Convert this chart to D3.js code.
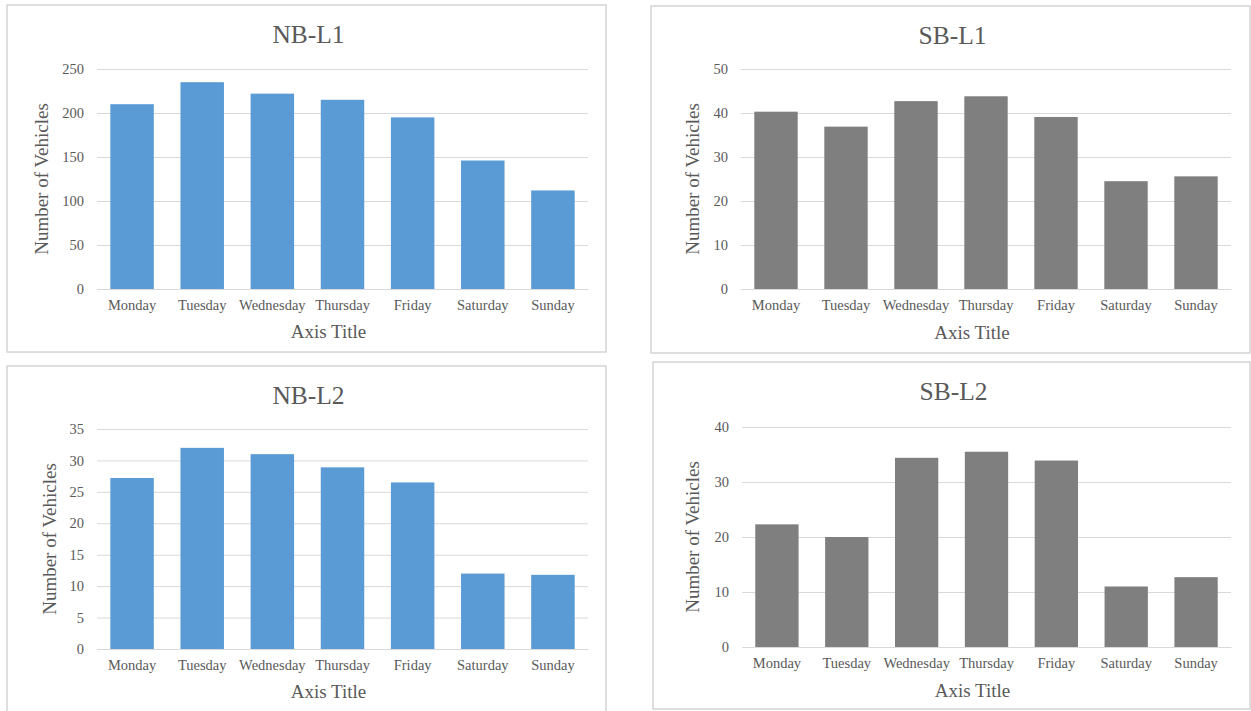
<!DOCTYPE html>
<html>
<head>
<meta charset="utf-8">
<script src="https://cdn.jsdelivr.net/npm/d3@7"></script>
<style>
  html, body { margin: 0; padding: 0; background: #ffffff; }
  svg { display: block; }
  text { font-family: "Liberation Serif", "Times New Roman", serif; fill: #595959; }
</style>
</head>
<body>
<svg id="chart" width="1251" height="711"></svg>
<script>
// ---- data ----
const days = ["Monday", "Tuesday", "Wednesday", "Thursday", "Friday", "Saturday", "Sunday"];
const titles = ["NB-L1", "SB-L1", "NB-L2", "SB-L2"];
const nbL1 = [210, 235, 222, 215, 195, 146, 112];
const sbL1 = [40.3, 36.9, 42.7, 43.8, 39.1, 24.5, 25.6];
const nbL2 = [27.2, 32.0, 31.0, 28.9, 26.5, 12.0, 11.8];
const sbL2 = [22.3, 20.0, 34.4, 35.5, 33.9, 11.0, 12.7];
const nbL1Ticks = [0, 50, 100, 150, 200, 250];
const sbL1Ticks = [0, 10, 20, 30, 40, 50];
const nbL2Ticks = [0, 5, 10, 15, 20, 25, 30, 35];
const sbL2Ticks = [0, 10, 20, 30, 40];
const yAxisLabel = "Number of Vehicles";
const xAxisLabel = "Axis Title";

// ---- layout ----
const panels = [
  { title: titles[0], values: nbL1, ticks: nbL1Ticks, color: "#5B9BD5",
    frame: [7, 5, 606, 352], plot: [97, 69, 588, 289], yTitleX: 42, xTitleY: 338 },
  { title: titles[1], values: sbL1, ticks: sbL1Ticks, color: "#7F7F7F",
    frame: [651, 6, 1250, 353], plot: [741, 69, 1231, 289], yTitleX: 693, xTitleY: 339 },
  { title: titles[2], values: nbL2, ticks: nbL2Ticks, color: "#5B9BD5",
    frame: [7, 366, 606, 716], plot: [97, 429, 588, 649], yTitleX: 50, xTitleY: 698 },
  { title: titles[3], values: sbL2, ticks: sbL2Ticks, color: "#7F7F7F",
    frame: [653, 362, 1250, 709], plot: [742, 427, 1231, 647], yTitleX: 693, xTitleY: 697 }
];

const svg = d3.select("#chart");

panels.forEach(p => {
  const [fx0, fy0, fx1, fy1] = p.frame;
  const [px0, py0, px1, py1] = p.plot;
  const g = svg.append("g");

  g.append("rect")
    .attr("x", fx0).attr("y", fy0)
    .attr("width", fx1 - fx0).attr("height", fy1 - fy0)
    .attr("fill", "#ffffff")
    .attr("stroke", "#D4D4D4").attr("stroke-width", 1.5);

  const x = d3.scaleBand().domain(days).range([px0, px1]).paddingInner(0.38).paddingOuter(0.19);
  const y = d3.scaleLinear().domain([0, d3.max(p.ticks)]).range([py1, py0]);

  // gridlines
  const yAxis = d3.axisLeft(y).tickValues(p.ticks).tickSize(-(px1 - px0)).tickPadding(13);
  const ya = g.append("g").attr("transform", `translate(${px0},0)`).call(yAxis);
  ya.select(".domain").remove();
  ya.selectAll(".tick line").attr("stroke", "#D9D9D9").attr("stroke-width", 1);
  ya.selectAll(".tick text").style("font-size", "14.5px").attr("fill", "#595959")
    .style("font-family", '"Liberation Serif", serif');

  // bars
  g.selectAll("rect.bar").data(p.values).enter().append("rect")
    .attr("class", "bar")
    .attr("x", (d, i) => x(days[i]))
    .attr("width", x.bandwidth())
    .attr("y", d => y(d))
    .attr("height", d => y(0) - y(d))
    .attr("fill", p.color);

  // x axis
  const xAxis = d3.axisBottom(x).tickSize(0).tickPadding(11);
  const xa = g.append("g").attr("transform", `translate(0,${py1})`).call(xAxis);
  xa.select(".domain").attr("stroke", "#D9D9D9");
  xa.selectAll(".tick text").style("font-size", "14.5px").attr("fill", "#595959")
    .style("font-family", '"Liberation Serif", serif');

  // title
  g.append("text")
    .attr("x", (fx0 + fx1) / 2 + 2).attr("y", fy0 + 38)
    .attr("text-anchor", "middle")
    .style("font-size", "25.5px")
    .text(p.title);

  // axis titles
  g.append("text")
    .attr("x", (px0 + px1) / 2 - 14).attr("y", p.xTitleY)
    .attr("text-anchor", "middle")
    .style("font-size", "19px")
    .text(xAxisLabel);

  g.append("text")
    .attr("transform", `translate(${p.yTitleX + 6},${(py0 + py1) / 2}) rotate(-90)`)
    .attr("text-anchor", "middle")
    .style("font-size", "19px")
    .text(yAxisLabel);
});
</script>
</body>
</html>
